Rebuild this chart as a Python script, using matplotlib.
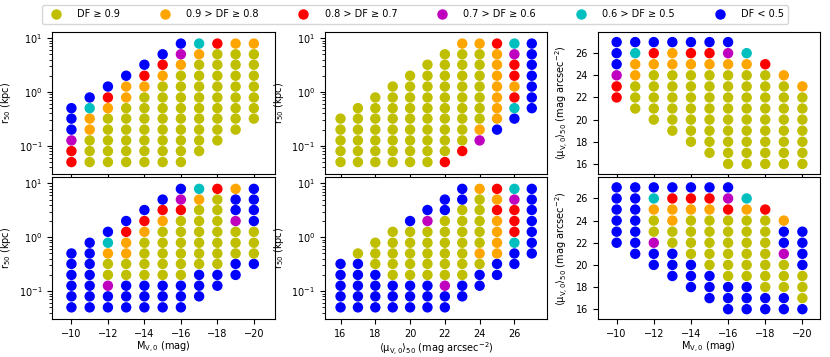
import numpy as np
import matplotlib.pyplot as plt
from matplotlib.lines import Line2D

plt.rcParams['mathtext.default'] = 'regular'
plt.rcParams['font.size'] = 7

# absolute magnitudes (columns) and half-light radius grid (rows, kpc)
mags = [-10, -11, -12, -13, -14, -15, -16, -17, -18, -19, -20]
r_grid = [0.05, 0.08, 0.126, 0.2, 0.32, 0.5, 0.79, 1.26, 2.0, 3.2, 5.0, 7.9]
# first r index used in each magnitude column
r_start = [0, 0, 0, 0, 0, 0, 0, 1, 2, 3, 4]
# surface brightness for r_grid[0] at M = -10 (one step in r = one mag arcsec^-2)
mu_offset = 32

# detection-fraction class per cell, bottom (small r) to top
top_codes = ["rrmbbb", "yyyoocb", "yyyyyorb", "yyyyyyoob", "yyyyyyyorb",
             "yyyyyyyyorb", "yyyyyyyyyomb", "yyyyyyyyyoc", "yyyyyyyyyr",
             "yyyyyyyyo", "yyyyyyyo"]
bottom_codes = ["bbbbbb", "bbbbbbb", "bbmyyocb", "bbbyyoorb", "bbbyyyyorb",
                "bbbyyyyyorb", "bbbyyyyyyrmb", "bbbyyyyyyoc", "bbyyyyyyyr",
                "bbyyymbbo", "byyybbbb"]

class_codes = ['y', 'o', 'r', 'm', 'c', 'b']
class_colors = ['y', 'orange', 'r', 'm', 'c', 'b']
class_labels = ['DF ≥ 0.9', '0.9 > DF ≥ 0.8', '0.8 > DF ≥ 0.7',
                '0.7 > DF ≥ 0.6', '0.6 > DF ≥ 0.5', 'DF < 0.5']
cmap = dict(zip(class_codes, class_colors))


def expand(codes):
    M, r, mu, col = [], [], [], []
    for m, s, c in zip(mags, r_start, codes):
        for k, ch in enumerate(c):
            idx = s + k
            M.append(m)
            r.append(r_grid[idx])
            mu.append(m + idx + mu_offset)
            col.append(cmap[ch])
    return np.array(M), np.array(r), np.array(mu), col


fig, axes = plt.subplots(2, 3, figsize=(8.3, 3.57), dpi=100)
fig.subplots_adjust(left=0.063, right=0.988, top=0.91, bottom=0.106,
                    wspace=0.225, hspace=0.025)

size = 42
for row, codes in enumerate([top_codes, bottom_codes]):
    M, r, mu, col = expand(codes)
    ax1, ax2, ax3 = axes[row]

    ax1.scatter(M, r, c=col, s=size)
    ax1.set_yscale('log')
    ax1.set_xlim(-8.95, -21.15)
    ax1.set_ylim(10**-1.52, 10**1.11)
    ax1.set_xticks([-10, -12, -14, -16, -18, -20])
    ax1.set_ylabel('r$_{50}$ (kpc)')

    ax2.scatter(mu, r, c=col, s=size)
    ax2.set_yscale('log')
    ax2.set_xlim(15.1, 27.9)
    ax2.set_ylim(10**-1.52, 10**1.11)
    ax2.set_xticks([16, 18, 20, 22, 24, 26])
    ax2.set_ylabel('r$_{50}$ (kpc)')

    ax3.scatter(M, mu, c=col, s=size)
    ax3.set_xlim(-8.97, -20.95)
    ax3.set_ylim(15.1, 27.9)
    ax3.set_xticks([-10, -12, -14, -16, -18, -20])
    ax3.set_yticks([16, 18, 20, 22, 24, 26])
    ax3.set_ylabel(r'$\langle\mu_{V,0}\rangle_{50}$ (mag arcsec$^{-2}$)')

    for ax in (ax1, ax2, ax3):
        ax.tick_params(labelsize=7)
    if row == 0:
        for ax in (ax1, ax2, ax3):
            ax.tick_params(labelbottom=False)
    else:
        ax1.set_xlabel('M$_{V,0}$ (mag)', labelpad=1)
        ax2.set_xlabel(r'$\langle\mu_{V,0}\rangle_{50}$ (mag arcsec$^{-2}$)', labelpad=1)
        ax3.set_xlabel('M$_{V,0}$ (mag)', labelpad=1)

handles = [Line2D([], [], marker='o', ls='none', color=c, markersize=6.5)
           for c in class_colors]
fig.legend(handles, class_labels, loc='upper center', ncol=6,
           bbox_to_anchor=(0.5, 1.0), columnspacing=3.6, handletextpad=1.2,
           fontsize=7, borderpad=0.45)

fig.savefig('out.png', dpi=100)
